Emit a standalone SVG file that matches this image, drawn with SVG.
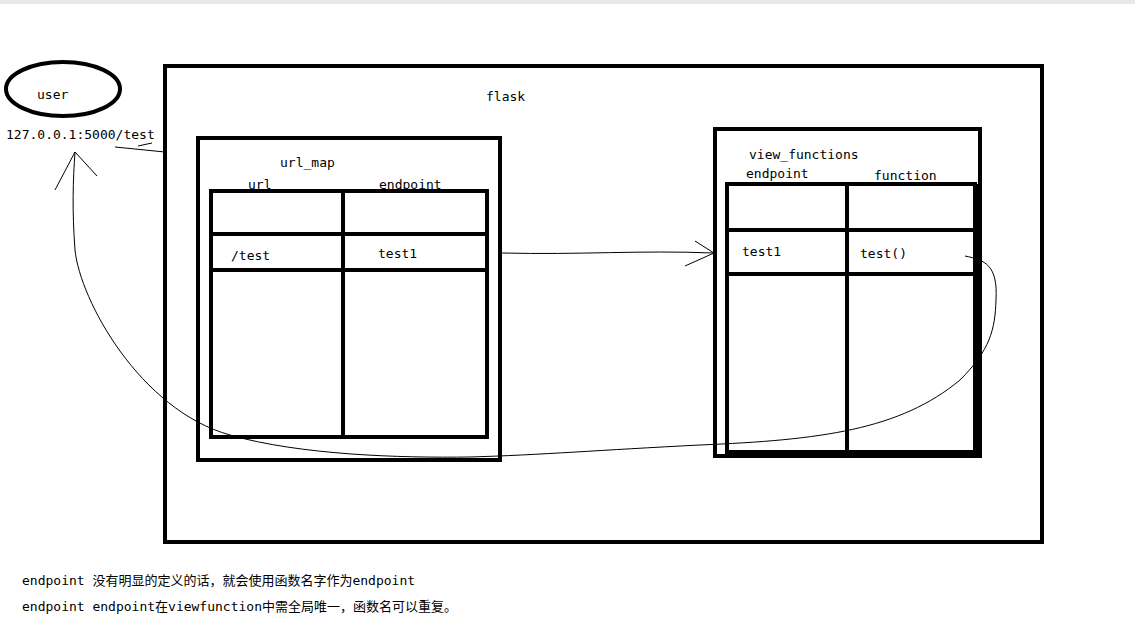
<svg xmlns="http://www.w3.org/2000/svg" width="1135" height="640" viewBox="0 0 1135 640">
<style>
.b{fill:none;stroke:#000;stroke-width:4}
.t{font-family:"DejaVu Sans Mono","Liberation Mono","Noto Sans CJK SC",monospace;font-size:13px;fill:#000}
.c{fill:none;stroke:#000;stroke-width:1}
</style>
<rect width="1135" height="640" fill="#fff"/>
<rect x="0" y="0" width="1135" height="4" fill="#e8e8e8"/>
<g id="user"><ellipse cx="63" cy="89" rx="57" ry="27" class="b" stroke-width="5"/><text x="37" y="99" class="t">user</text></g>
<text x="6" y="139" class="t" font-size="14">127.0.0.1:5000/test</text>
<g id="flask"><rect x="165" y="66" width="877" height="476" class="b"/><text x="486" y="101" class="t">flask</text></g>
<g id="url_map">
<rect x="198" y="138" width="302" height="322" class="b"/>
<text x="280" y="167" class="t">url_map</text>
<text x="248" y="189" class="t">url</text>
<text x="379" y="189" class="t">endpoint</text>
<rect x="211" y="191" width="276" height="246" class="b"/>
<line x1="343" y1="191" x2="343" y2="437" class="b"/>
<line x1="211" y1="234" x2="487" y2="234" class="b"/>
<line x1="211" y1="270" x2="487" y2="270" class="b"/>
<text x="231" y="260" class="t">/test</text>
<text x="378" y="258" class="t">test1</text>
</g>
<g id="view_functions">
<rect x="715" y="129" width="265" height="327" class="b"/>
<text x="749" y="159" class="t">view_functions</text>
<text x="746" y="178" class="t">endpoint</text>
<text x="874" y="180" class="t">function</text>
<rect x="727" y="184" width="248" height="268" class="b"/>
<line x1="976" y1="184" x2="976" y2="456" class="b"/>
<line x1="847" y1="184" x2="847" y2="452" class="b"/>
<line x1="727" y1="230" x2="975" y2="230" class="b"/>
<line x1="727" y1="274" x2="975" y2="274" class="b"/>
<text x="742" y="256" class="t">test1</text>
<text x="860" y="258" class="t">test()</text>
</g>
<g id="connectors">
<path class="c" d="M502 253 C580 255 640 250 714 253"/>
<path class="c" d="M695 241 L714 253 L685 266"/>
<path class="c" d="M965 256 C985 260 998 265 996 300 C995 330 990 350 960 380 C900 430 820 440 700 445 C600 450 540 455 470 457 C400 458 300 455 230 435 C140 410 80 300 75 250 C72 210 73 180 75 152"/>
<path class="c" d="M55 190 L75 152 L97 176"/>
<path class="c" d="M165 152 L115 147 M138 146 L152 143"/>
</g>
<text x="22" y="585" class="t">endpoint 没有明显的定义的话，就会使用函数名字作为endpoint</text>
<text x="22" y="611" class="t">endpoint  endpoint在viewfunction中需全局唯一，函数名可以重复。</text>
</svg>
